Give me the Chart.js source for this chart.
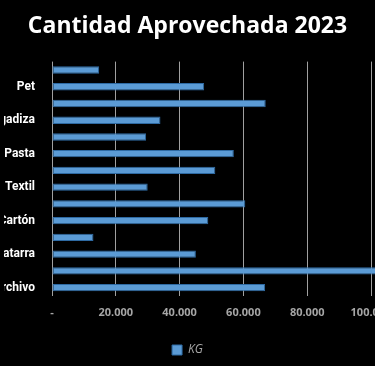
<!DOCTYPE html>
<html>
<head>
<meta charset="utf-8">
<script src="https://cdn.jsdelivr.net/npm/chart.js@4/dist/chart.umd.min.js"></script>
<style>
  html, body { margin: 0; padding: 0; background: #000; overflow: hidden; }
  .wrap { position: absolute; left: -18px; top: 0; width: 411px; height: 366px; }
</style>
</head>
<body>
<div class="wrap"><canvas id="chart"></canvas></div>
<script>
// categories top to bottom (only every other label is visible in the picture)
const categories = ['Vidrio', 'Pet', 'Soplado', 'Plegadiza', 'Periódico', 'Pasta', 'Polietileno',
  'Textil', 'Aluminio', 'Cartón', 'Cobre', 'Chatarra', 'Pet Ámbar', 'Archivo'];
const kgValues = [14800, 47700, 67000, 34000, 29500, 57000, 51200,
  30000, 60600, 49000, 13000, 45100, 103000, 66800];
const xTicks = [0, 20000, 40000, 60000, 80000, 100000];

function fmt(v) {
  if (v === 0) return '-';
  return String(v).replace(/\B(?=(\d{3})+(?!\d))/g, '.');
}

const ctx = document.getElementById('chart').getContext('2d');
new Chart(ctx, {
  type: 'bar',
  data: {
    labels: categories,
    datasets: [{
      label: 'KG',
      data: kgValues,
      backgroundColor: '#5b9bd5',
      borderColor: '#2e6aa3',
      borderWidth: 1,
      borderSkipped: false,
      barPercentage: 0.44,
      categoryPercentage: 1,
      clip: false
    }]
  },
  options: {
    indexAxis: 'y',
    responsive: true,
    maintainAspectRatio: false,
    animation: false,
    // left/right padding kept equal so the title stays centred in the window
    layout: { padding: { top: 6, bottom: 0, left: 22, right: 22 } },
    plugins: {
      title: {
        display: true,
        text: 'Cantidad Aprovechada 2023',
        color: '#ffffff',
        font: { family: 'Open Sans', size: 23, weight: 'bold' },
        padding: { top: 7, bottom: 21 }
      },
      legend: {
        position: 'bottom',
        labels: {
          color: '#a6a6a6',
          boxWidth: 10,
          boxHeight: 10,
          padding: 14,
          font: { family: 'Open Sans', size: 12, style: 'italic' }
        }
      },
      tooltip: { enabled: false }
    },
    scales: {
      x: {
        min: 0,
        max: 100000,
        afterBuildTicks: (axis) => { axis.ticks = xTicks.map(v => ({ value: v })); },
        afterFit: (axis) => {
          axis.height = 34;
          axis.paddingLeft = 0;
          axis.paddingRight = 0;
        },
        ticks: {
          color: '#a6a6a6',
          padding: 10,
          maxRotation: 0,
          font: { family: 'Open Sans', size: 11, weight: 'bold' },
          callback: (v) => fmt(v)
        },
        grid: { color: '#a0a0a0', lineWidth: 1, drawTicks: false },
        border: { display: false }
      },
      y: {
        afterFit: (axis) => { axis.width = 48; },
        ticks: {
          color: '#ffffff',
          padding: 17,
          autoSkip: false,
          font: { family: 'Roboto', size: 12, weight: 'bold' },
          callback: function (v, i) { return i % 2 === 1 ? this.getLabelForValue(v) : ''; }
        },
        grid: { display: false, drawTicks: false },
        border: { display: false }
      }
    }
  }
});
</script>
</body>
</html>
